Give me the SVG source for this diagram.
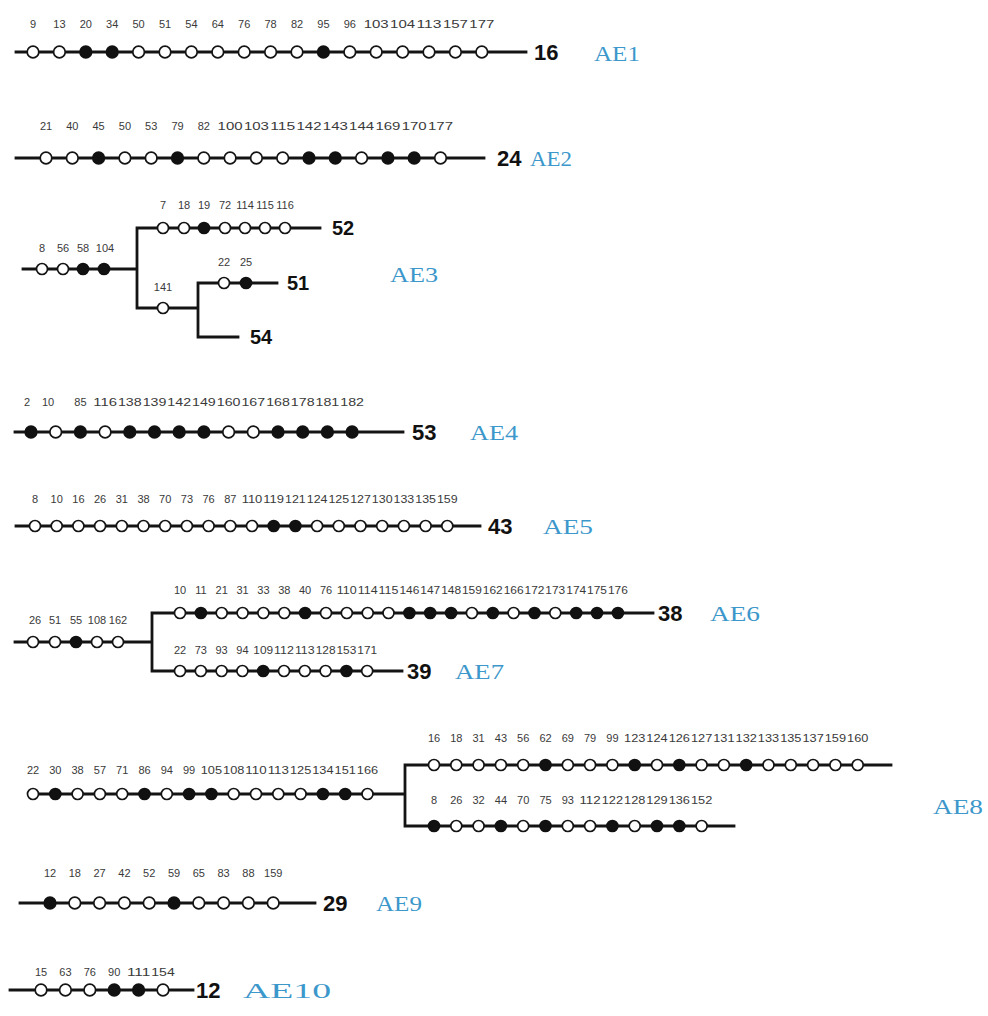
<svg xmlns="http://www.w3.org/2000/svg" width="988" height="1016" viewBox="0 0 988 1016">
<style>
.ln{stroke:#141414;stroke-width:2.8;fill:none;stroke-linecap:square}
.o{fill:#fff;stroke:#141414;stroke-width:1.7}
.f{fill:#111;stroke:#111;stroke-width:1.7}
.n{font-family:"Liberation Sans",Arial,sans-serif;font-size:11px;fill:#3a3a3a;text-anchor:middle}
.b{font-family:"Liberation Sans",Arial,sans-serif;font-size:22px;font-weight:bold;fill:#111}
.s{font-size:20px}
.ae{font-family:"Liberation Serif","Times New Roman",serif;font-size:21px;fill:#3c97cb}
</style>
<rect width="988" height="1016" fill="#fff"/>

<!-- backbone lines and branch connectors -->
<g id="connectors" class="ln">
  <path d="M16 52H526"/>
  <path d="M16 158H484"/>
  <path d="M23 269H137M137 228V308M137 228H320M137 308H198M198 283V337M198 283H277M198 337H238"/>
  <path d="M15 432H403"/>
  <path d="M16 526H480"/>
  <path d="M15 642H152M152 613V671M152 613H653M152 671H402"/>
  <path d="M33 794H405M405 765V826M405 765H891M405 826H734"/>
  <path d="M20 903H315"/>
  <path d="M10 990H193"/>
</g>

<!-- AE1 -->
<g id="ae1">
  <circle class="o" cx="33" cy="52" r="5.8"/><circle class="o" cx="59.4" cy="52" r="5.8"/><circle class="f" cx="85.8" cy="52" r="5.8"/><circle class="f" cx="112.2" cy="52" r="5.8"/><circle class="o" cx="138.6" cy="52" r="5.8"/><circle class="o" cx="165" cy="52" r="5.8"/><circle class="o" cx="191.4" cy="52" r="5.8"/><circle class="o" cx="217.8" cy="52" r="5.8"/><circle class="o" cx="244.2" cy="52" r="5.8"/><circle class="o" cx="270.6" cy="52" r="5.8"/><circle class="o" cx="297" cy="52" r="5.8"/><circle class="f" cx="323.4" cy="52" r="5.8"/><circle class="o" cx="349.8" cy="52" r="5.8"/><circle class="o" cx="376.2" cy="52" r="5.8"/><circle class="o" cx="402.6" cy="52" r="5.8"/><circle class="o" cx="429" cy="52" r="5.8"/><circle class="o" cx="455.4" cy="52" r="5.8"/><circle class="o" cx="481.8" cy="52" r="5.8"/>
  <g class="n">
    <text x="33" y="28">9</text><text x="59.4" y="28">13</text><text x="85.8" y="28">20</text><text x="112.2" y="28">34</text><text x="138.6" y="28">50</text><text x="165" y="28">51</text><text x="191.4" y="28">54</text><text x="217.8" y="28">64</text><text x="244.2" y="28">76</text><text x="270.6" y="28">78</text><text x="297" y="28">82</text><text x="323.4" y="28">95</text><text x="349.8" y="28">96</text>
    <text x="376.2" y="28" textLength="25" lengthAdjust="spacingAndGlyphs">103</text><text x="402.6" y="28" textLength="25" lengthAdjust="spacingAndGlyphs">104</text><text x="429" y="28" textLength="25" lengthAdjust="spacingAndGlyphs">113</text><text x="455.4" y="28" textLength="25" lengthAdjust="spacingAndGlyphs">157</text><text x="481.8" y="28" textLength="25" lengthAdjust="spacingAndGlyphs">177</text>
  </g>
  <text class="b" x="534" y="60">16</text>
  <text class="ae" x="594" y="61" textLength="46" lengthAdjust="spacingAndGlyphs">AE1</text>
</g>

<!-- AE2 -->
<g id="ae2">
  <circle class="o" cx="46" cy="158" r="5.8"/><circle class="o" cx="72.3" cy="158" r="5.8"/><circle class="f" cx="98.6" cy="158" r="5.8"/><circle class="o" cx="124.9" cy="158" r="5.8"/><circle class="o" cx="151.2" cy="158" r="5.8"/><circle class="f" cx="177.5" cy="158" r="5.8"/><circle class="o" cx="203.8" cy="158" r="5.8"/><circle class="o" cx="230.1" cy="158" r="5.8"/><circle class="o" cx="256.4" cy="158" r="5.8"/><circle class="o" cx="282.7" cy="158" r="5.8"/><circle class="f" cx="309" cy="158" r="5.8"/><circle class="f" cx="335.3" cy="158" r="5.8"/><circle class="o" cx="361.6" cy="158" r="5.8"/><circle class="f" cx="387.9" cy="158" r="5.8"/><circle class="f" cx="414.2" cy="158" r="5.8"/><circle class="o" cx="440.5" cy="158" r="5.8"/>
  <g class="n">
    <text x="46" y="130">21</text><text x="72.3" y="130">40</text><text x="98.6" y="130">45</text><text x="124.9" y="130">50</text><text x="151.2" y="130">53</text><text x="177.5" y="130">79</text><text x="203.8" y="130">82</text>
    <text x="230.1" y="130" textLength="25" lengthAdjust="spacingAndGlyphs">100</text><text x="256.4" y="130" textLength="25" lengthAdjust="spacingAndGlyphs">103</text><text x="282.7" y="130" textLength="25" lengthAdjust="spacingAndGlyphs">115</text><text x="309" y="130" textLength="25" lengthAdjust="spacingAndGlyphs">142</text><text x="335.3" y="130" textLength="25" lengthAdjust="spacingAndGlyphs">143</text><text x="361.6" y="130" textLength="25" lengthAdjust="spacingAndGlyphs">144</text><text x="387.9" y="130" textLength="25" lengthAdjust="spacingAndGlyphs">169</text><text x="414.2" y="130" textLength="25" lengthAdjust="spacingAndGlyphs">170</text><text x="440.5" y="130" textLength="25" lengthAdjust="spacingAndGlyphs">177</text>
  </g>
  <text class="b" x="497" y="166">24</text>
  <text class="ae" x="530" y="166" textLength="42" lengthAdjust="spacingAndGlyphs">AE2</text>
</g>

<!-- AE3 -->
<g id="ae3">
  <circle class="o" cx="42" cy="269" r="5.5"/><circle class="o" cx="63" cy="269" r="5.5"/><circle class="f" cx="83" cy="269" r="5.5"/><circle class="f" cx="104" cy="269" r="5.5"/>
  <circle class="o" cx="163" cy="228" r="5.5"/><circle class="o" cx="184" cy="228" r="5.5"/><circle class="f" cx="204" cy="228" r="5.5"/><circle class="o" cx="225" cy="228" r="5.5"/><circle class="o" cx="245" cy="228" r="5.5"/><circle class="o" cx="265" cy="228" r="5.5"/><circle class="o" cx="285" cy="228" r="5.5"/>
  <circle class="o" cx="163" cy="308" r="5.5"/>
  <circle class="o" cx="224" cy="283" r="5.5"/><circle class="f" cx="246" cy="283" r="5.5"/>
  <g class="n">
    <text x="42" y="252">8</text><text x="63" y="252">56</text><text x="83" y="252">58</text><text x="105" y="252">104</text>
    <text x="163" y="209">7</text><text x="184" y="209">18</text><text x="204" y="209">19</text><text x="225" y="209">72</text><text x="245" y="209">114</text><text x="265" y="209">115</text><text x="285" y="209">116</text>
    <text x="163" y="291">141</text>
    <text x="224" y="266">22</text><text x="246" y="266">25</text>
  </g>
  <text class="b s" x="332" y="235">52</text>
  <text class="b s" x="287" y="290">51</text>
  <text class="b s" x="250" y="344">54</text>
  <text class="ae" x="390" y="282" textLength="48" lengthAdjust="spacingAndGlyphs">AE3</text>
</g>

<!-- AE4 -->
<g id="ae4">
  <circle class="f" cx="31" cy="432" r="5.8"/><circle class="o" cx="55.7" cy="432" r="5.8"/><circle class="f" cx="80.4" cy="432" r="5.8"/><circle class="o" cx="105.1" cy="432" r="5.8"/><circle class="f" cx="129.8" cy="432" r="5.8"/><circle class="f" cx="154.5" cy="432" r="5.8"/><circle class="f" cx="179.2" cy="432" r="5.8"/><circle class="f" cx="203.9" cy="432" r="5.8"/><circle class="o" cx="228.6" cy="432" r="5.8"/><circle class="o" cx="253.3" cy="432" r="5.8"/><circle class="f" cx="278" cy="432" r="5.8"/><circle class="f" cx="302.7" cy="432" r="5.8"/><circle class="f" cx="327.4" cy="432" r="5.8"/><circle class="f" cx="352.1" cy="432" r="5.8"/>
  <g class="n">
    <text x="27" y="406">2</text><text x="48" y="406">10</text><text x="80.4" y="406">85</text>
    <text x="105.1" y="406" textLength="23.7" lengthAdjust="spacingAndGlyphs">116</text><text x="129.8" y="406" textLength="23.7" lengthAdjust="spacingAndGlyphs">138</text><text x="154.5" y="406" textLength="23.7" lengthAdjust="spacingAndGlyphs">139</text><text x="179.2" y="406" textLength="23.7" lengthAdjust="spacingAndGlyphs">142</text><text x="203.9" y="406" textLength="23.7" lengthAdjust="spacingAndGlyphs">149</text><text x="228.6" y="406" textLength="23.7" lengthAdjust="spacingAndGlyphs">160</text><text x="253.3" y="406" textLength="23.7" lengthAdjust="spacingAndGlyphs">167</text><text x="278" y="406" textLength="23.7" lengthAdjust="spacingAndGlyphs">168</text><text x="302.7" y="406" textLength="23.7" lengthAdjust="spacingAndGlyphs">178</text><text x="327.4" y="406" textLength="23.7" lengthAdjust="spacingAndGlyphs">181</text><text x="352.1" y="406" textLength="23.7" lengthAdjust="spacingAndGlyphs">182</text>
  </g>
  <text class="b" x="412" y="440">53</text>
  <text class="ae" x="470" y="440" textLength="48" lengthAdjust="spacingAndGlyphs">AE4</text>
</g>

<!-- AE5 -->
<g id="ae5">
  <circle class="o" cx="35" cy="526" r="5.5"/><circle class="o" cx="56.7" cy="526" r="5.5"/><circle class="o" cx="78.4" cy="526" r="5.5"/><circle class="o" cx="100.1" cy="526" r="5.5"/><circle class="o" cx="121.8" cy="526" r="5.5"/><circle class="o" cx="143.5" cy="526" r="5.5"/><circle class="o" cx="165.2" cy="526" r="5.5"/><circle class="o" cx="186.9" cy="526" r="5.5"/><circle class="o" cx="208.6" cy="526" r="5.5"/><circle class="o" cx="230.3" cy="526" r="5.5"/><circle class="o" cx="252" cy="526" r="5.5"/><circle class="f" cx="273.7" cy="526" r="5.5"/><circle class="f" cx="295.4" cy="526" r="5.5"/><circle class="o" cx="317.1" cy="526" r="5.5"/><circle class="o" cx="338.8" cy="526" r="5.5"/><circle class="o" cx="360.5" cy="526" r="5.5"/><circle class="o" cx="382.2" cy="526" r="5.5"/><circle class="o" cx="403.9" cy="526" r="5.5"/><circle class="o" cx="425.6" cy="526" r="5.5"/><circle class="o" cx="447.3" cy="526" r="5.5"/>
  <g class="n">
    <text x="35" y="503">8</text><text x="56.7" y="503">10</text><text x="78.4" y="503">16</text><text x="100.1" y="503">26</text><text x="121.8" y="503">31</text><text x="143.5" y="503">38</text><text x="165.2" y="503">70</text><text x="186.9" y="503">73</text><text x="208.6" y="503">76</text><text x="230.3" y="503">87</text>
    <text x="252" y="503" textLength="20.7" lengthAdjust="spacingAndGlyphs">110</text><text x="273.7" y="503" textLength="20.7" lengthAdjust="spacingAndGlyphs">119</text><text x="295.4" y="503" textLength="20.7" lengthAdjust="spacingAndGlyphs">121</text><text x="317.1" y="503" textLength="20.7" lengthAdjust="spacingAndGlyphs">124</text><text x="338.8" y="503" textLength="20.7" lengthAdjust="spacingAndGlyphs">125</text><text x="360.5" y="503" textLength="20.7" lengthAdjust="spacingAndGlyphs">127</text><text x="382.2" y="503" textLength="20.7" lengthAdjust="spacingAndGlyphs">130</text><text x="403.9" y="503" textLength="20.7" lengthAdjust="spacingAndGlyphs">133</text><text x="425.6" y="503" textLength="20.7" lengthAdjust="spacingAndGlyphs">135</text><text x="447.3" y="503" textLength="20.7" lengthAdjust="spacingAndGlyphs">159</text>
  </g>
  <text class="b" x="488" y="534">43</text>
  <text class="ae" x="543" y="534" textLength="50" lengthAdjust="spacingAndGlyphs">AE5</text>
</g>

<!-- shared stem of AE6 / AE7 -->
<g id="ae6-7-stem">
  <circle class="o" cx="33" cy="642" r="5.5"/><circle class="o" cx="55" cy="642" r="5.5"/><circle class="f" cx="76" cy="642" r="5.5"/><circle class="o" cx="97" cy="642" r="5.5"/><circle class="o" cx="118" cy="642" r="5.5"/>
  <g class="n">
    <text x="35" y="624">26</text><text x="55" y="624">51</text><text x="76" y="624">55</text><text x="97" y="624">108</text><text x="118" y="624">162</text>
  </g>
</g>

<!-- AE6 -->
<g id="ae6">
  <circle class="o" cx="180" cy="613" r="5.5"/><circle class="f" cx="200.9" cy="613" r="5.5"/><circle class="o" cx="221.7" cy="613" r="5.5"/><circle class="o" cx="242.6" cy="613" r="5.5"/><circle class="o" cx="263.4" cy="613" r="5.5"/><circle class="o" cx="284.3" cy="613" r="5.5"/><circle class="f" cx="305.1" cy="613" r="5.5"/><circle class="o" cx="326" cy="613" r="5.5"/><circle class="o" cx="346.8" cy="613" r="5.5"/><circle class="o" cx="367.7" cy="613" r="5.5"/><circle class="o" cx="388.5" cy="613" r="5.5"/><circle class="f" cx="409.4" cy="613" r="5.5"/><circle class="f" cx="430.2" cy="613" r="5.5"/><circle class="f" cx="451.1" cy="613" r="5.5"/><circle class="o" cx="471.9" cy="613" r="5.5"/><circle class="f" cx="492.8" cy="613" r="5.5"/><circle class="o" cx="513.6" cy="613" r="5.5"/><circle class="f" cx="534.5" cy="613" r="5.5"/><circle class="o" cx="555.3" cy="613" r="5.5"/><circle class="f" cx="576.2" cy="613" r="5.5"/><circle class="f" cx="597" cy="613" r="5.5"/><circle class="f" cx="617.9" cy="613" r="5.5"/>
  <g class="n">
    <text x="180" y="594">10</text><text x="200.9" y="594">11</text><text x="221.7" y="594">21</text><text x="242.6" y="594">31</text><text x="263.4" y="594">33</text><text x="284.3" y="594">38</text><text x="305.1" y="594">40</text><text x="326" y="594">76</text>
    <text x="346.8" y="594" textLength="19.9" lengthAdjust="spacingAndGlyphs">110</text><text x="367.7" y="594" textLength="19.9" lengthAdjust="spacingAndGlyphs">114</text><text x="388.5" y="594" textLength="19.9" lengthAdjust="spacingAndGlyphs">115</text><text x="409.4" y="594" textLength="19.9" lengthAdjust="spacingAndGlyphs">146</text><text x="430.2" y="594" textLength="19.9" lengthAdjust="spacingAndGlyphs">147</text><text x="451.1" y="594" textLength="19.9" lengthAdjust="spacingAndGlyphs">148</text><text x="471.9" y="594" textLength="19.9" lengthAdjust="spacingAndGlyphs">159</text><text x="492.8" y="594" textLength="19.9" lengthAdjust="spacingAndGlyphs">162</text><text x="513.6" y="594" textLength="19.9" lengthAdjust="spacingAndGlyphs">166</text><text x="534.5" y="594" textLength="19.9" lengthAdjust="spacingAndGlyphs">172</text><text x="555.3" y="594" textLength="19.9" lengthAdjust="spacingAndGlyphs">173</text><text x="576.2" y="594" textLength="19.9" lengthAdjust="spacingAndGlyphs">174</text><text x="597" y="594" textLength="19.9" lengthAdjust="spacingAndGlyphs">175</text><text x="617.9" y="594" textLength="19.9" lengthAdjust="spacingAndGlyphs">176</text>
  </g>
  <text class="b" x="658" y="621">38</text>
  <text class="ae" x="710" y="621" textLength="50" lengthAdjust="spacingAndGlyphs">AE6</text>
</g>

<!-- AE7 -->
<g id="ae7">
  <circle class="o" cx="180" cy="671" r="5.5"/><circle class="o" cx="200.8" cy="671" r="5.5"/><circle class="o" cx="221.6" cy="671" r="5.5"/><circle class="o" cx="242.4" cy="671" r="5.5"/><circle class="f" cx="263.2" cy="671" r="5.5"/><circle class="o" cx="284" cy="671" r="5.5"/><circle class="o" cx="304.8" cy="671" r="5.5"/><circle class="o" cx="325.6" cy="671" r="5.5"/><circle class="f" cx="346.4" cy="671" r="5.5"/><circle class="o" cx="367.2" cy="671" r="5.5"/>
  <g class="n">
    <text x="180" y="654">22</text><text x="200.8" y="654">73</text><text x="221.6" y="654">93</text><text x="242.4" y="654">94</text>
    <text x="263.2" y="654" textLength="19.8" lengthAdjust="spacingAndGlyphs">109</text><text x="284" y="654" textLength="19.8" lengthAdjust="spacingAndGlyphs">112</text><text x="304.8" y="654" textLength="19.8" lengthAdjust="spacingAndGlyphs">113</text><text x="325.6" y="654" textLength="19.8" lengthAdjust="spacingAndGlyphs">128</text><text x="346.4" y="654" textLength="19.8" lengthAdjust="spacingAndGlyphs">153</text><text x="367.2" y="654" textLength="19.8" lengthAdjust="spacingAndGlyphs">171</text>
  </g>
  <text class="b" x="407" y="679">39</text>
  <text class="ae" x="455" y="679" textLength="49" lengthAdjust="spacingAndGlyphs">AE7</text>
</g>

<!-- AE8 -->
<g id="ae8">
  <circle class="o" cx="33" cy="794" r="5.5"/><circle class="f" cx="55.3" cy="794" r="5.5"/><circle class="o" cx="77.6" cy="794" r="5.5"/><circle class="o" cx="99.9" cy="794" r="5.5"/><circle class="o" cx="122.2" cy="794" r="5.5"/><circle class="f" cx="144.5" cy="794" r="5.5"/><circle class="o" cx="166.8" cy="794" r="5.5"/><circle class="f" cx="189.1" cy="794" r="5.5"/><circle class="f" cx="211.4" cy="794" r="5.5"/><circle class="o" cx="233.7" cy="794" r="5.5"/><circle class="o" cx="256" cy="794" r="5.5"/><circle class="o" cx="278.3" cy="794" r="5.5"/><circle class="o" cx="300.6" cy="794" r="5.5"/><circle class="f" cx="322.9" cy="794" r="5.5"/><circle class="f" cx="345.2" cy="794" r="5.5"/><circle class="o" cx="367.5" cy="794" r="5.5"/>
  <circle class="o" cx="434" cy="765" r="5.5"/><circle class="o" cx="456.3" cy="765" r="5.5"/><circle class="o" cx="478.6" cy="765" r="5.5"/><circle class="o" cx="500.9" cy="765" r="5.5"/><circle class="o" cx="523.2" cy="765" r="5.5"/><circle class="f" cx="545.5" cy="765" r="5.5"/><circle class="o" cx="567.8" cy="765" r="5.5"/><circle class="o" cx="590.1" cy="765" r="5.5"/><circle class="o" cx="612.4" cy="765" r="5.5"/><circle class="f" cx="634.7" cy="765" r="5.5"/><circle class="o" cx="657" cy="765" r="5.5"/><circle class="f" cx="679.3" cy="765" r="5.5"/><circle class="o" cx="701.6" cy="765" r="5.5"/><circle class="o" cx="723.9" cy="765" r="5.5"/><circle class="f" cx="746.2" cy="765" r="5.5"/><circle class="o" cx="768.5" cy="765" r="5.5"/><circle class="o" cx="790.8" cy="765" r="5.5"/><circle class="o" cx="813.1" cy="765" r="5.5"/><circle class="o" cx="835.4" cy="765" r="5.5"/><circle class="o" cx="857.7" cy="765" r="5.5"/>
  <circle class="f" cx="434" cy="826" r="5.5"/><circle class="o" cx="456.3" cy="826" r="5.5"/><circle class="o" cx="478.6" cy="826" r="5.5"/><circle class="f" cx="500.9" cy="826" r="5.5"/><circle class="o" cx="523.2" cy="826" r="5.5"/><circle class="f" cx="545.5" cy="826" r="5.5"/><circle class="o" cx="567.8" cy="826" r="5.5"/><circle class="o" cx="590.1" cy="826" r="5.5"/><circle class="f" cx="612.4" cy="826" r="5.5"/><circle class="o" cx="634.7" cy="826" r="5.5"/><circle class="f" cx="657" cy="826" r="5.5"/><circle class="f" cx="679.3" cy="826" r="5.5"/><circle class="o" cx="701.6" cy="826" r="5.5"/>
  <g class="n">
    <text x="33" y="774">22</text><text x="55.3" y="774">30</text><text x="77.6" y="774">38</text><text x="99.9" y="774">57</text><text x="122.2" y="774">71</text><text x="144.5" y="774">86</text><text x="166.8" y="774">94</text><text x="189.1" y="774">99</text>
    <text x="211.4" y="774" textLength="21.3" lengthAdjust="spacingAndGlyphs">105</text><text x="233.7" y="774" textLength="21.3" lengthAdjust="spacingAndGlyphs">108</text><text x="256" y="774" textLength="21.3" lengthAdjust="spacingAndGlyphs">110</text><text x="278.3" y="774" textLength="21.3" lengthAdjust="spacingAndGlyphs">113</text><text x="300.6" y="774" textLength="21.3" lengthAdjust="spacingAndGlyphs">125</text><text x="322.9" y="774" textLength="21.3" lengthAdjust="spacingAndGlyphs">134</text><text x="345.2" y="774" textLength="21.3" lengthAdjust="spacingAndGlyphs">151</text><text x="367.5" y="774" textLength="21.3" lengthAdjust="spacingAndGlyphs">166</text>
    <text x="434" y="742">16</text><text x="456.3" y="742">18</text><text x="478.6" y="742">31</text><text x="500.9" y="742">43</text><text x="523.2" y="742">56</text><text x="545.5" y="742">62</text><text x="567.8" y="742">69</text><text x="590.1" y="742">79</text><text x="612.4" y="742">99</text>
    <text x="634.7" y="742" textLength="21.3" lengthAdjust="spacingAndGlyphs">123</text><text x="657" y="742" textLength="21.3" lengthAdjust="spacingAndGlyphs">124</text><text x="679.3" y="742" textLength="21.3" lengthAdjust="spacingAndGlyphs">126</text><text x="701.6" y="742" textLength="21.3" lengthAdjust="spacingAndGlyphs">127</text><text x="723.9" y="742" textLength="21.3" lengthAdjust="spacingAndGlyphs">131</text><text x="746.2" y="742" textLength="21.3" lengthAdjust="spacingAndGlyphs">132</text><text x="768.5" y="742" textLength="21.3" lengthAdjust="spacingAndGlyphs">133</text><text x="790.8" y="742" textLength="21.3" lengthAdjust="spacingAndGlyphs">135</text><text x="813.1" y="742" textLength="21.3" lengthAdjust="spacingAndGlyphs">137</text><text x="835.4" y="742" textLength="21.3" lengthAdjust="spacingAndGlyphs">159</text><text x="857.7" y="742" textLength="21.3" lengthAdjust="spacingAndGlyphs">160</text>
    <text x="434" y="804">8</text><text x="456.3" y="804">26</text><text x="478.6" y="804">32</text><text x="500.9" y="804">44</text><text x="523.2" y="804">70</text><text x="545.5" y="804">75</text><text x="567.8" y="804">93</text>
    <text x="590.1" y="804" textLength="21.3" lengthAdjust="spacingAndGlyphs">112</text><text x="612.4" y="804" textLength="21.3" lengthAdjust="spacingAndGlyphs">122</text><text x="634.7" y="804" textLength="21.3" lengthAdjust="spacingAndGlyphs">128</text><text x="657" y="804" textLength="21.3" lengthAdjust="spacingAndGlyphs">129</text><text x="679.3" y="804" textLength="21.3" lengthAdjust="spacingAndGlyphs">136</text><text x="701.6" y="804" textLength="21.3" lengthAdjust="spacingAndGlyphs">152</text>
  </g>
  <text class="ae" x="933" y="814" textLength="50" lengthAdjust="spacingAndGlyphs">AE8</text>
</g>

<!-- AE9 -->
<g id="ae9">
  <circle class="f" cx="50" cy="903" r="5.8"/><circle class="o" cx="74.8" cy="903" r="5.8"/><circle class="o" cx="99.6" cy="903" r="5.8"/><circle class="o" cx="124.4" cy="903" r="5.8"/><circle class="o" cx="149.2" cy="903" r="5.8"/><circle class="f" cx="174" cy="903" r="5.8"/><circle class="o" cx="198.8" cy="903" r="5.8"/><circle class="o" cx="223.6" cy="903" r="5.8"/><circle class="o" cx="248.4" cy="903" r="5.8"/><circle class="o" cx="273.2" cy="903" r="5.8"/>
  <g class="n">
    <text x="50" y="877">12</text><text x="74.8" y="877">18</text><text x="99.6" y="877">27</text><text x="124.4" y="877">42</text><text x="149.2" y="877">52</text><text x="174" y="877">59</text><text x="198.8" y="877">65</text><text x="223.6" y="877">83</text><text x="248.4" y="877">88</text><text x="273.2" y="877">159</text>
  </g>
  <text class="b" x="323" y="911">29</text>
  <text class="ae" x="376" y="911" textLength="46" lengthAdjust="spacingAndGlyphs">AE9</text>
</g>

<!-- AE10 -->
<g id="ae10">
  <circle class="o" cx="41" cy="990" r="5.8"/><circle class="o" cx="65.4" cy="990" r="5.8"/><circle class="o" cx="89.8" cy="990" r="5.8"/><circle class="f" cx="114.2" cy="990" r="5.8"/><circle class="f" cx="138.6" cy="990" r="5.8"/><circle class="o" cx="163" cy="990" r="5.8"/>
  <g class="n">
    <text x="41" y="976">15</text><text x="65.4" y="976">63</text><text x="89.8" y="976">76</text><text x="114.2" y="976">90</text>
    <text x="138.6" y="976" textLength="23.4" lengthAdjust="spacingAndGlyphs">111</text><text x="163" y="976" textLength="23.4" lengthAdjust="spacingAndGlyphs">154</text>
  </g>
  <text class="b" x="196" y="998">12</text>
  <text class="ae" x="243" y="998" textLength="88" lengthAdjust="spacingAndGlyphs">AE10</text>
</g>
</svg>
